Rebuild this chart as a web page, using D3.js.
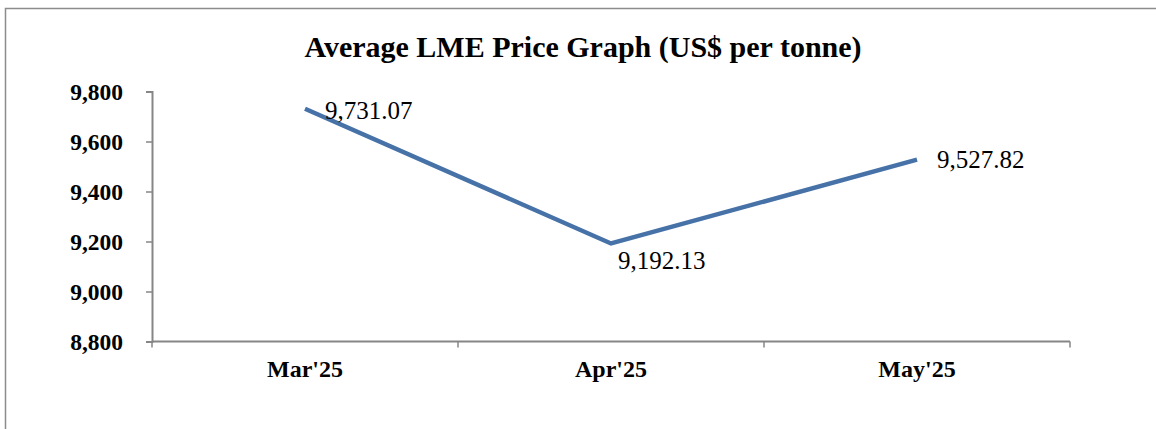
<!DOCTYPE html>
<html>
<head>
<meta charset="utf-8">
<script src="https://cdn.jsdelivr.net/npm/d3@7"></script>
<style>
    body { margin: 0; background: #fff; }
    svg { display: block; font-family: "Liberation Serif", "Times New Roman", serif; }
</style>
</head>
<body>
<svg id="chart" width="1156" height="429"></svg>
<script>
// Chart data
const months = ["Mar'25", "Apr'25", "May'25"];
const prices = [9731.07, 9192.13, 9527.82];
const yTicks = [8800, 9000, 9200, 9400, 9600, 9800];

const svg = d3.select("#chart");

// outer frame (runs off the right and bottom of the picture)
svg.append("rect")
    .attr("x", 5.5).attr("y", 8.5)
    .attr("width", 1200).attr("height", 500)
    .attr("fill", "none")
    .attr("stroke", "#8c8c8c")
    .attr("stroke-width", 1.5);

const plot = {left: 152, right: 1070, top: 91.5, bottom: 341.5};

const x = d3.scaleBand()
    .domain(months)
    .range([plot.left, plot.right]);

const y = d3.scaleLinear()
    .domain([8800, 9800])
    .range([plot.bottom, plot.top]);

svg.append("text")
    .attr("x", 583).attr("y", 57)
    .attr("text-anchor", "middle")
    .attr("font-size", 30)
    .attr("font-weight", "bold")
    .text("Average LME Price Graph (US$ per tonne)");

// y axis
const yAxis = svg.append("g")
    .attr("transform", "translate(" + plot.left + ",0)")
    .call(d3.axisLeft(y).tickValues(yTicks).tickFormat(d3.format(",")).tickSize(6).tickPadding(23));
yAxis.select(".domain").attr("stroke", "#868686").attr("stroke-width", 2);
yAxis.selectAll(".tick line").attr("stroke", "#868686").attr("stroke-width", 1.5);
yAxis.selectAll("text")
    .attr("font-size", 23.5)
    .attr("font-weight", "bold")
    .attr("fill", "#000")
    .attr("font-family", "Liberation Serif, serif");

// x axis, ticks between the categories
const xAxis = svg.append("g")
    .attr("transform", "translate(0," + plot.bottom + ")");
xAxis.append("line")
    .attr("x1", plot.left).attr("x2", plot.right)
    .attr("stroke", "#868686").attr("stroke-width", 2);
const bounds = months.map(m => x(m)).concat([plot.right]);
xAxis.selectAll(".xt")
    .data(bounds)
    .enter()
    .append("line")
        .attr("class", "xt")
        .attr("x1", d => d).attr("x2", d => d)
        .attr("y1", 0).attr("y2", 6)
        .attr("stroke", "#868686").attr("stroke-width", 1.5);
xAxis.selectAll(".xl")
    .data(months)
    .enter()
    .append("text")
        .attr("class", "xl")
        .attr("x", d => x(d) + x.bandwidth() / 2)
        .attr("y", 35)
        .attr("text-anchor", "middle")
        .attr("font-size", 24)
        .attr("font-weight", "bold")
        .text(d => d);

// line
const pts = months.map((m, i) => [x(m) + x.bandwidth() / 2, y(prices[i])]);
svg.append("path")
    .datum(pts)
    .attr("d", d3.line())
    .attr("fill", "none")
    .attr("stroke", "#4672a8")
    .attr("stroke-width", 4.5)
    .attr("stroke-linejoin", "miter");

// data labels
const labelOffsets = [[20, 10], [7, 26], [20, 8.5]];
svg.selectAll(".dl")
    .data(pts)
    .enter()
    .append("text")
        .attr("class", "dl")
        .attr("x", (d, i) => d[0] + labelOffsets[i][0])
        .attr("y", (d, i) => d[1] + labelOffsets[i][1])
        .attr("font-size", 25)
        .attr("fill", "#000")
        .text((d, i) => d3.format(",.2f")(prices[i]));
</script>
</body>
</html>
